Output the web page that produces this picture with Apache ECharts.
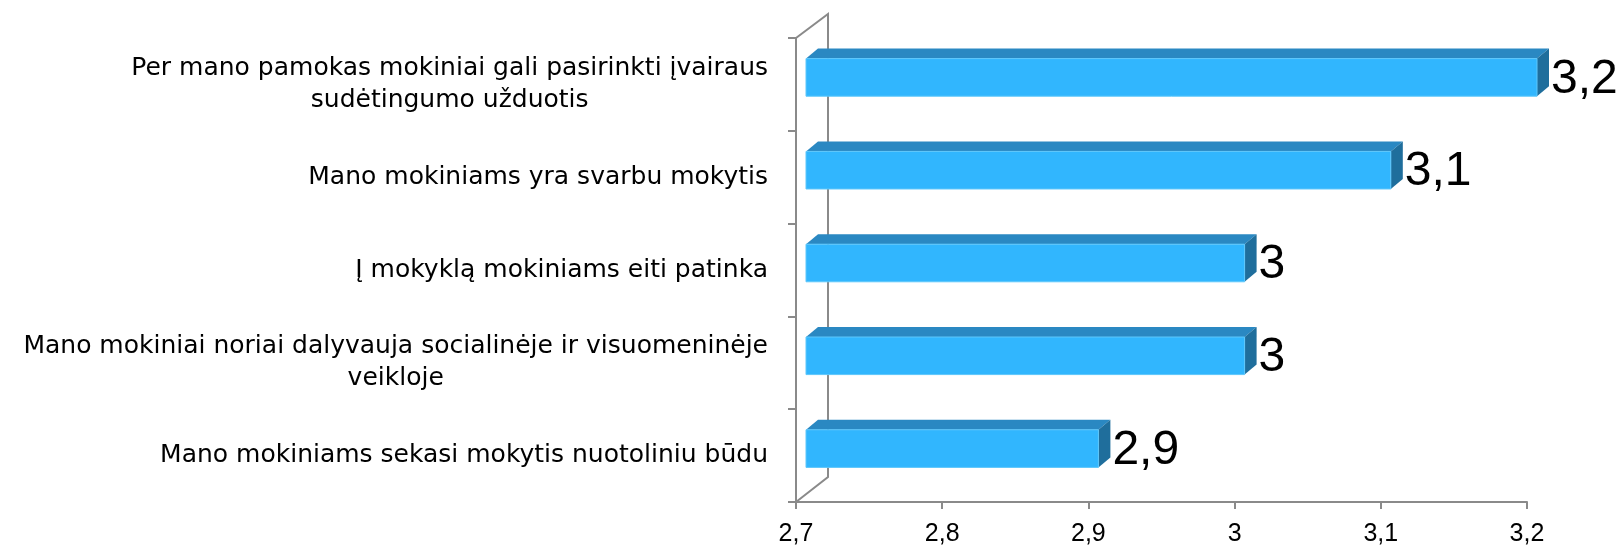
<!DOCTYPE html>
<html>
<head>
<meta charset="utf-8">
<script src="https://cdn.jsdelivr.net/npm/echarts@6/dist/echarts.min.js"></script>
<style>
html,body{margin:0;padding:0;background:#fff;}
#chart{width:1621px;height:549px;}
</style>
</head>
<body>
<div id="chart"></div>
<script>
// ---- data ----
const categories = [
  "Per mano pamokas mokiniai gali pasirinkti įvairaus\nsudėtingumo užduotis",
  "Mano mokiniams yra svarbu mokytis",
  "Į mokyklą mokiniams eiti patinka",
  "Mano mokiniai noriai dalyvauja socialinėje ir visuomeninėje\nveikloje",
  "Mano mokiniams sekasi mokytis nuotoliniu būdu"
];
const values = [3.2, 3.1, 3, 3, 2.9];
const axisMin = 2.7;
const axisMax = 3.2;
const axisStep = 0.1;

// ---- styling constants ----
const GREY = '#8a8a8a';
const FRONT = '#31b6fe';
const TOP = '#2a88c2';
const SIDE = '#1f6e9c';
const fmt = v => (+(+v).toFixed(1)).toString().replace('.', ',');

function renderBar(params, api) {
  const cat = api.value(0);
  const val = api.value(1);
  const p0 = api.coord([axisMin, cat]);
  const p1 = api.coord([val, cat]);
  const band = api.size([0, 1])[1];
  const h = band * 0.405;
  const fx = 10, fy = -7;     // front face shift inside the depth
  const dx = 12, dy = -10;    // bar depth
  const x = p0[0] + fx;
  const w = p1[0] - p0[0];
  const y = p1[1] + fy - h / 2;
  return {
    type: 'group',
    children: [
      {type: 'polygon', shape: {points: [[x, y], [x + dx, y + dy], [x + w + dx, y + dy], [x + w, y]]},
       style: {fill: TOP}},
      {type: 'polygon', shape: {points: [[x + w, y], [x + w + dx, y + dy], [x + w + dx, y + h + dy], [x + w, y + h]]},
       style: {fill: SIDE}},
      {type: 'rect', shape: {x: x, y: y, width: w, height: h},
       style: {fill: FRONT, stroke: '#5ec7fb', lineWidth: 1}},
      {type: 'text', x: x + w + dx + 2, y: y + h / 2 + 2,
       style: {text: fmt(val), fill: '#000', font: '48px "Liberation Sans", Arial, sans-serif',
               align: 'left', verticalAlign: 'middle'}}
    ]
  };
}

function renderWall(params, api) {
  const n = categories.length;
  const c0 = api.coord([axisMin, 0]);
  const cN = api.coord([axisMin, n - 1]);
  const band = api.size([0, 1])[1];
  const top = c0[1] - band / 2;
  const bottom = cN[1] + band / 2;
  const x0 = c0[0];
  const ddx = 32, ddy = -24;
  return {
    type: 'polyline',
    shape: {points: [[x0, top], [x0 + ddx, top + ddy], [x0 + ddx, bottom + ddy - 1], [x0, bottom]]},
    style: {stroke: GREY, lineWidth: 2, fill: null}
  };
}

const chart = echarts.init(document.getElementById('chart'), null, {renderer: 'canvas'});
chart.setOption({
  animation: false,
  backgroundColor: '#fff',
  grid: {left: 796, right: 94, top: 38, bottom: 47, containLabel: false},
  xAxis: {
    type: 'value', min: axisMin, max: axisMax, interval: axisStep,
    axisLine: {show: true, lineStyle: {color: GREY, width: 2}},
    axisTick: {show: true, length: 7, lineStyle: {color: GREY, width: 2}},
    splitLine: {show: false},
    axisLabel: {color: '#000', fontSize: 25, fontFamily: '"Liberation Sans", Arial, sans-serif',
                margin: 20, formatter: fmt}
  },
  yAxis: {
    type: 'category', inverse: true, data: categories,
    axisLine: {show: true, lineStyle: {color: GREY, width: 2}},
    axisTick: {show: true, length: 8, lineStyle: {color: GREY, width: 2}},
    axisLabel: {
      margin: 28,
      formatter: v => v.split('\n').map(s => '{a|' + s + '}').join('\n'),
      rich: {a: {align: 'center', fontSize: 25, lineHeight: 32, color: '#000',
                 fontFamily: '"DejaVu Sans", sans-serif'}}
    }
  },
  series: [
    {type: 'custom', renderItem: renderWall, data: [[0, axisMin]], encode: {x: 1, y: 0}, z: 1, silent: true, clip: false},
    {type: 'custom', renderItem: renderBar, data: values.map((v, i) => [i, v]), encode: {x: 1, y: 0}, z: 3, clip: false}
  ]
});
</script>
</body>
</html>
